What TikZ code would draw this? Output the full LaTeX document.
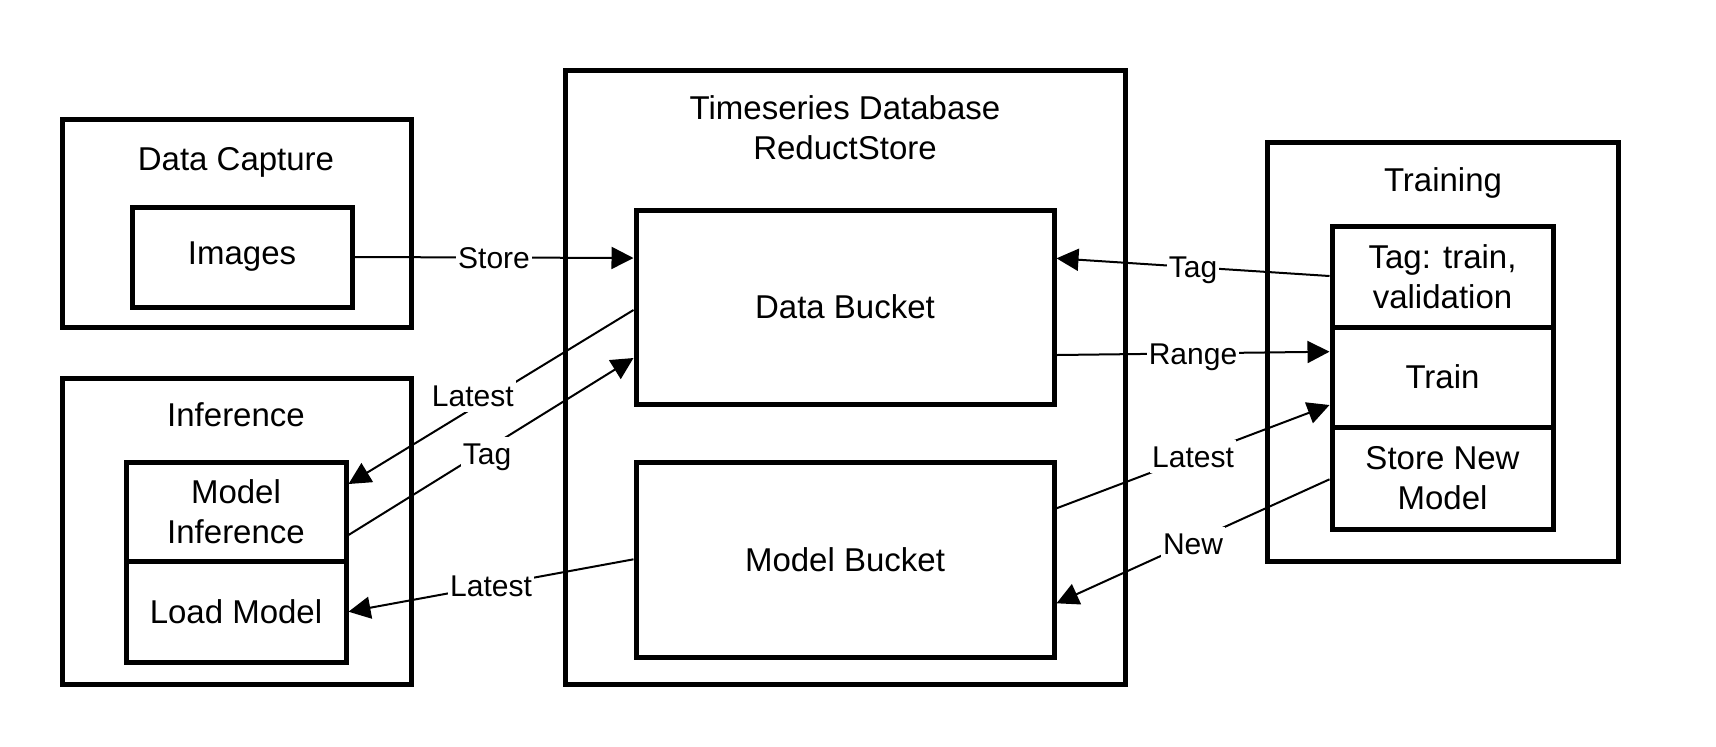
\documentclass[tikz,border=0pt]{standalone}
\usepackage{fontspec}
\setmainfont{Liberation Sans}
\usetikzlibrary{arrows.meta}
\begin{document}
\begin{tikzpicture}[x=0.5pt,y=-0.5pt,
  box/.style={draw, line width=2.5pt, rectangle, inner sep=0pt, align=center, font=\fontsize{16.5}{20}\selectfont},
  ttl/.style={inner sep=0pt, align=center, font=\fontsize{16.5}{20}\selectfont},
  conn/.style={line width=1pt, -{Triangle[length=11pt,width=11pt]}},
  lbl/.style={fill=white, inner xsep=1pt, inner ysep=3pt, text height=10.7pt, text depth=0pt, font=\fontsize{15}{18}\selectfont},
]
\useasboundingbox (0,0) rectangle (1716,746);
% containers
\node[box, minimum width=174.5pt, minimum height=104pt] (dc) at (236.5,223) {};
\node[ttl, anchor=base] (dct) at (236,170.8) {Data Capture};
\node[box, minimum width=110pt, minimum height=50pt] (img) at (242,257) {Images};
\node[box, minimum width=174.5pt, minimum height=153pt] (inf) at (236.5,531) {};
\node[ttl, anchor=base] (inft) at (236,426.5) {Inference};
\node[box, minimum width=110pt, minimum height=49.5pt] (mi) at (236,511.5) {Model\\Inference};
\node[box, minimum width=110pt, minimum height=50.5pt] (lm) at (236,611.5) {Load Model};
\node[box, minimum width=280pt, minimum height=307pt] (ts) at (845,377) {};
\node[ttl] (tst) at (845,127.5) {Timeseries Database\\ReductStore};
\node[box, minimum width=209pt, minimum height=97pt] (db) at (845,307) {Data Bucket};
\node[box, minimum width=209pt, minimum height=97.5pt] (mb) at (845,559.5) {Model Bucket};
\node[box, minimum width=175.5pt, minimum height=209.5pt] (tr) at (1442.5,351.5) {};
\node[ttl, anchor=base] (trt) at (1443,191) {Training};
\node[box, minimum width=110.5pt, minimum height=50.5pt] (tag) at (1442.5,276.5) {Tag: train,\\validation};
\node[box, minimum width=110.5pt, minimum height=50pt] (train) at (1442.5,377) {Train};
\node[box, minimum width=110.5pt, minimum height=51pt] (snm) at (1442.5,478) {Store New\\Model};
% connectors
\draw[conn] (img.east) -- node[lbl]{Store} (db.west|-0,258);
\draw[conn] (db.west|-0,310) -- node[lbl,pos=0.564,yshift=6.25pt]{Latest} (mi.east|-0,484);
\draw[conn] (mi.east|-0,535) -- node[lbl,pos=0.486,yshift=-2.5pt]{Tag} (db.west|-0,358);
\draw[conn] (mb.west|-0,559.3) -- node[lbl]{Latest} (lm.east|-0,611.7);
\draw[conn] (tag.west|-0,276) -- node[lbl]{Tag} (db.east|-0,258.3);
\draw[conn] (db.east|-0,355) -- node[lbl]{Range} (train.west|-0,351.7);
\draw[conn] (mb.east|-0,508.3) -- node[lbl]{Latest} (train.west|-0,405);
\draw[conn] (snm.west|-0,479.3) -- node[lbl,yshift=-1.25pt]{New} (mb.east|-0,603.3);
\end{tikzpicture}
\end{document}
